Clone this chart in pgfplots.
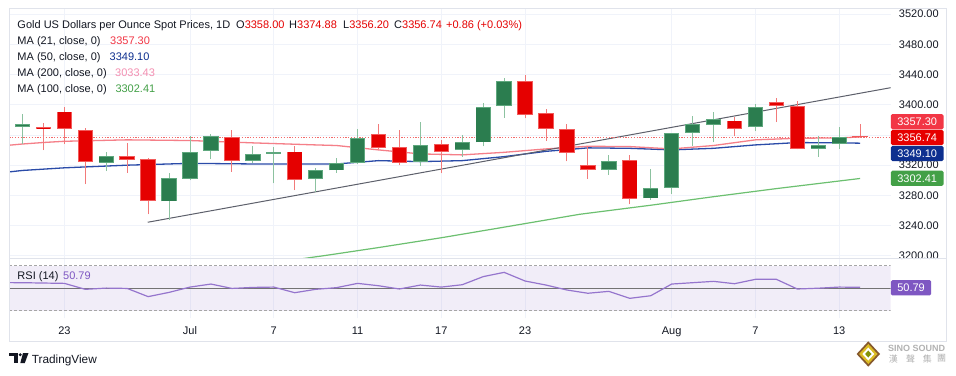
\documentclass[border=0pt]{standalone}
\usepackage{pgfplots}
\pgfplotsset{compat=1.18}
\usepackage{pgfplotstable}
\usepackage{fontspec}
\setmainfont{Liberation Sans}
\newfontfamily\cjk{Noto Sans CJK TC}
\definecolor{txt}{HTML}{131722}
\definecolor{upc}{HTML}{2B7D4F}
\definecolor{upb}{HTML}{5FA87E}
\definecolor{dnc}{HTML}{E50000}
\definecolor{dnb}{HTML}{F25A5A}
\definecolor{upw}{HTML}{8CC2A0}
\definecolor{dnw}{HTML}{F27A7A}
\definecolor{ma21}{HTML}{F57F88}
\definecolor{ma50}{HTML}{2A4BA8}
\definecolor{ma100}{HTML}{6CC070}
\definecolor{ma200}{HTML}{F48FB1}
\definecolor{gridc}{HTML}{F0F3FA}
\definecolor{framec}{HTML}{E0E3EB}
\definecolor{rsic}{HTML}{9575CD}
\definecolor{rsitag}{HTML}{7E57C2}
\definecolor{tag21}{HTML}{F23645}
\definecolor{tagc}{HTML}{E60000}
\definecolor{tag50}{HTML}{0D2F8F}
\definecolor{tag100}{HTML}{43A047}
\definecolor{trendc}{HTML}{5D606B}
\definecolor{pline}{HTML}{F26B6B}
\newcommand\fs{\fontsize{11bp}{13bp}\selectfont}

\pgfplotstableread{
i o h l c
0 3371 3388 3348 3374
4 3323 3337 3312 3332
7 3272 3309 3248 3303
8 3302 3358 3300 3337
9 3339 3361 3328 3358
11 3326 3345 3323 3335
12 3335 3344 3296 3337
14 3302 3316 3284 3314
15 3313 3330 3310 3323
16 3323 3368 3322 3356
19 3324 3377 3319 3347
21 3340 3360 3331 3350
22 3350 3402 3345 3397
23 3398 3435 3383 3431
28 3314 3334 3307 3326
30 3276 3315 3274 3290
31 3290 3363 3282 3362
32 3363 3385 3346 3374
33 3373 3390 3350 3381
35 3370 3401 3365 3397
38 3342 3359 3331 3347
39 3348 3370 3342 3357
}\upT

\pgfplotstableread{
i o h l c
1 3371 3376 3340 3368
2 3391 3397 3348 3368
3 3367 3369 3295 3324
5 3332 3349 3310 3327
6 3328 3329 3255 3273
10 3357 3366 3311 3326
13 3338 3346 3287 3300
17 3361 3375 3341 3343
18 3344 3367 3320 3323
20 3348 3353 3309 3338
24 3431 3439 3382 3387
25 3389 3394 3352 3368
26 3368 3374 3325 3336
27 3320 3346 3302 3314
29 3327 3334 3268 3275
34 3379 3384 3358 3368
36 3403 3409 3377 3398
37 3398 3405 3341 3342
40 3358.00 3374.88 3356.20 3356.74
}\dnT

\begin{document}
\begin{tikzpicture}[x=1bp,y=1bp]
\fill[white] (0,0) rectangle (956,375);

% ---------------- main pane ----------------
\begin{axis}[
  at={(9.3bp,116.7bp)}, anchor=south west, scale only axis,
  width=881.4bp, height=249.3bp,
  xmin=-0.63, xmax=41.46, ymin=3196.8, ymax=3526.6,
  axis line style={draw=none}, tick style={draw=none},
  xtick={2,8,12,16,20,24,31,35,39}, xticklabels={},
  ytick={3200,3240,3280,3320,3400,3440,3480,3520},
  extra y ticks={3360}, extra y tick labels={},
  extra y tick style={grid=major},
  yticklabel pos=right,
  /pgf/number format/assume math mode=true,
  yticklabel={\pgfmathprintnumber[fixed,fixed zerofill,precision=2,1000 sep={}]{\tick}},
  yticklabel style={anchor=west, inner sep=0pt, xshift=8bp, font=\fs, text=txt},
  grid=major, grid style={gridc, line width=0.8bp},
]
% moving averages
\addplot[ma100, line width=1.2bp, forget plot] coordinates {
(12,3191) (13.2,3195.6) (14.7,3201.5) (17,3211) (20,3224) (23,3238) (26.6,3255) (30,3267) (33,3278.3) (36,3289) (40,3302.41)};
\addplot[ma50, line width=1.3bp, forget plot] coordinates {
(-1,3310) (0,3313) (2,3316.5) (5,3320) (8,3322.4) (11,3321.6) (14,3321.6) (15,3321.6) (17,3326) (19,3324.7) (21,3326) (23,3331.3) (25,3338.3) (27,3342.9) (29,3342.3) (31,3340.2) (33,3342.3) (35,3346.8) (37,3349.9) (39,3349.5) (40,3349.10)};
\addplot[ma21, line width=1.3bp, forget plot] coordinates {
(-1,3345.5) (0,3348) (1,3350) (2,3351.6) (5,3353.5) (8,3352.6) (11,3349.5) (14,3346.8) (15,3346) (17,3340.2) (19,3334.9) (21,3333.6) (23,3337) (25,3341.5) (27,3345) (29,3344.6) (31,3341.5) (33,3346) (35,3353.5) (37,3355.6) (39,3356.1) (40,3357.30)};
% trend line
\addplot[trendc, line width=1bp, forget plot] coordinates {(5.98,3244.5) (41.46,3422.5)};
% last price dotted line
\addplot[pline, dash pattern=on 1.2bp off 1.6bp, line width=0.8bp, forget plot] coordinates {(-0.63,3356.74) (41.46,3356.74)};
% wicks
\addplot[forget plot, draw=none, mark=none, error bars/.cd, y dir=plus, y explicit, error mark=none,
  error bar style={line width=1bp, draw=upw, solid}]
  table[x=i, y=l, y error plus expr=\thisrow{h}-\thisrow{l}] {\upT};
\addplot[forget plot, draw=none, mark=none, error bars/.cd, y dir=plus, y explicit, error mark=none,
  error bar style={line width=1bp, draw=dnw, solid}]
  table[x=i, y=l, y error plus expr=\thisrow{h}-\thisrow{l}] {\dnT};
% bodies: border then fill
\addplot[forget plot, draw=none, mark=none, error bars/.cd, y dir=plus, y explicit, error mark=none,
  error bar style={line width=15.4bp, draw=upb, solid}]
  table[x=i, y=o, y error plus expr=\thisrow{c}-\thisrow{o}] {\upT};
\addplot[forget plot, draw=none, mark=none, error bars/.cd, y dir=plus, y explicit, error mark=none,
  error bar style={line width=13.6bp, draw=upc, solid}]
  table[x=i, y expr=\thisrow{o}+1.2, y error plus expr={max(\thisrow{c}-\thisrow{o}-2.4,0)}] {\upT};
\addplot[forget plot, draw=none, mark=none, error bars/.cd, y dir=plus, y explicit, error mark=none,
  error bar style={line width=15.4bp, draw=dnb, solid}]
  table[x=i, y=c, y error plus expr=\thisrow{o}-\thisrow{c}] {\dnT};
\addplot[forget plot, draw=none, mark=none, error bars/.cd, y dir=plus, y explicit, error mark=none,
  error bar style={line width=13.6bp, draw=dnc, solid}]
  table[x=i, y expr=\thisrow{c}+1.2, y error plus expr={max(\thisrow{o}-\thisrow{c}-2.4,0)}] {\dnT};
\end{axis}

% ---------------- RSI pane ----------------
\begin{axis}[
  at={(9.3bp,57bp)}, anchor=south west, scale only axis,
  width=881.4bp, height=59.7bp,
  xmin=-0.63, xmax=41.46, ymin=23.5, ymax=76.6,
  axis line style={draw=none}, tick style={draw=none},
  xtick={2,8,12,16,20,24,31,35,39},
  xticklabels={23,Jul,7,11,17,23,Aug,7,13},
  xticklabel style={anchor=base, yshift=-16bp, font=\fs, text=txt},
  ytick=\empty,
  xmajorgrids, grid style={gridc, line width=0.8bp},
]
\fill[rsitag, fill opacity=0.1] (axis cs:-0.63,30) rectangle (axis cs:41.46,70);
\draw[black!35, dash pattern=on 2.5bp off 2.5bp, line width=0.8bp] (axis cs:-0.63,70) -- (axis cs:41.46,70);
\draw[black!35, dash pattern=on 2.5bp off 2.5bp, line width=0.8bp] (axis cs:-0.63,30) -- (axis cs:41.46,30);
\draw[black!55, line width=1bp] (axis cs:-0.63,50) -- (axis cs:41.46,50);
\addplot[rsic, line width=1.2bp, forget plot] coordinates {
(-1,55) (0,54.9) (1,54.6) (2,54.3) (3,49) (4,50.1) (5,49.8) (6,42.5) (7,46.3) (8,51) (9,53.7) (10,49.8)
(11,50.7) (12,51) (13,46) (14,49) (15,50.5) (16,54.3) (17,52.2) (18,49.3) (19,52.8) (20,51) (21,53.1)
(22,60.3) (23,64.1) (24,56.4) (25,52.8) (26,48.4) (27,45.5) (28,47.2) (29,41) (30,43.3) (31,53.7)
(32,54.9) (33,56.1) (34,54) (35,57.9) (36,57.9) (37,49.3) (38,50) (39,51) (40,50.79)};
\end{axis}

% frame and separators
\draw[framec, line width=1bp] (9.3,366) rectangle (946.5,34);
\draw[framec, line width=1bp] (9.3,116.7) -- (946.5,116.7);

% price tags
\begin{scope}[every node/.style={anchor=west, inner sep=0pt, text=white, font=\fs, minimum height=15.3bp, rounded corners=1.5bp}]
\node[fill=tag21, minimum width=52.6bp] at (890.7,253.3) {3357.30};
\node[fill=tagc, minimum width=52.6bp] at (890.7,237.5) {3356.74};
\node[fill=tag50, minimum width=52.6bp] at (890.7,221.5) {3349.10};
\node[fill=tag100, minimum width=52.6bp] at (890.7,196.7) {3302.41};
\node[fill=rsitag, minimum width=40.3bp] at (890.7,87.2) {50.79};
\end{scope}

% legend texts
\begin{scope}[every node/.style={anchor=base west, inner sep=0pt, font=\fs, text=txt}]
\node at (17.3,346.7) {Gold US Dollars per Ounce Spot Prices, 1D};
\node at (236,346.7) {O\textcolor{dnc}{3358.00}};
\node at (289,346.7) {H\textcolor{dnc}{3374.88}};
\node at (343,346.7) {L\textcolor{dnc}{3356.20}};
\node at (394,346.7) {C\textcolor{dnc}{3356.74}};
\node at (446,346.7) {\textcolor{dnc}{+0.86 (+0.03\%)}};
\node at (17.3,330.3) {MA (21, close, 0)};
\node at (110,330.3) {\textcolor{tag21}{3357.30}};
\node at (17.3,314.3) {MA (50, close, 0)};
\node at (109.5,314.3) {\textcolor{tag50}{3349.10}};
\node at (17.3,298.3) {MA (200, close, 0)};
\node at (115,298.3) {\textcolor{ma200}{3033.43}};
\node at (17.3,282.3) {MA (100, close, 0)};
\node at (115.3,282.3) {\textcolor{tag100}{3302.41}};
\node at (17.3,96) {RSI (14)};
\node at (63,96) {\textcolor{rsitag}{50.79}};
\end{scope}

% TradingView logo
\fill[txt] (9.3,22) rectangle (18,19);
\fill[txt] (13.5,19) rectangle (17.5,12);
\fill[txt] (20.2,20.3) circle (1.6bp);
\fill[txt] (23,22) -- (28.5,22) -- (24.8,12) -- (20.3,12) -- cycle;
\node[anchor=base west, inner sep=0pt, font=\fontsize{11.8bp}{13bp}\selectfont, text=txt] at (31.7,12) {TradingView};

% SINO SOUND logo
\fill[brown!70!black] (868.3,33.7) -- (880,21) -- (868.3,8.3) -- (856.6,21) -- cycle;
\fill[yellow!70!orange!85!black] (868.3,31) -- (877.5,21) -- (868.3,11) -- (859.1,21) -- cycle;
\fill[white] (868.3,27.5) -- (874.3,21) -- (868.3,14.5) -- (862.3,21) -- cycle;
\fill[olive!80!green] (868.3,24.5) -- (871.5,21) -- (868.3,17.5) -- (865.1,21) -- cycle;
\node[anchor=base west, inner sep=0pt, font=\fontsize{9bp}{10bp}\selectfont\bfseries, text=black!30] at (888,23.5) {SINO SOUND};
\begin{scope}[every node/.style={inner sep=0pt, font=\cjk\fontsize{9bp}{10bp}\selectfont, text=black!30}]
\node at (893.3,16.3) {漢};
\node at (910.7,16.3) {聲};
\node at (927.3,16.3) {集};
\node at (941.7,16.3) {團};
\end{scope}
\end{tikzpicture}
\end{document}
